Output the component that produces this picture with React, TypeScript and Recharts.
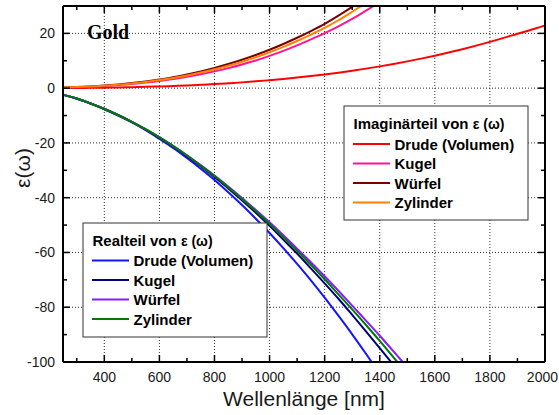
import React from "react";
import { LineChart, Line, XAxis, YAxis, ReferenceLine } from "recharts";

// Wavelength grid in nm
const WAVELENGTH = [
  250, 300, 350, 400, 450, 500, 550, 600, 650, 700, 750, 800, 850, 900, 950,
  1000, 1050, 1100, 1150, 1200, 1250, 1300, 1350, 1400, 1450, 1500, 1550,
  1600, 1650, 1700, 1750, 1800, 1850, 1900, 1950, 2000,
];

// Real part of epsilon (curves leave the frame below -100)
const RE_DRUDE = [
  -2.4, -3.9, -5.6, -7.7, -10.0, -12.5, -15.3, -18.5, -21.8, -25.5, -29.4,
  -33.5, -38.0, -42.7, -47.7, -52.9, -58.4, -64.2, -70.2, -76.5, -83.1, -89.9,
  -97.0, -104.4, null, null, null, null, null, null, null, null, null, null,
  null, null,
];
const RE_KUGEL = [
  -2.4, -3.8, -5.6, -7.6, -9.8, -12.3, -15.1, -18.1, -21.3, -24.8, -28.5,
  -32.5, -36.6, -41.0, -45.5, -50.3, -55.3, -60.4, -65.8, -71.3, -76.9, -82.8,
  -88.8, -94.9, -101.1, null, null, null, null, null, null, null, null, null,
  null, null,
];
const RE_WUERFEL = [
  -2.4, -3.8, -5.6, -7.5, -9.8, -12.3, -15.0, -17.9, -21.1, -24.5, -28.1,
  -31.9, -35.9, -40.1, -44.5, -49.0, -53.7, -58.6, -63.6, -68.7, -74.0, -79.4,
  -84.9, -90.4, -96.1, -101.9, null, null, null, null, null, null, null, null,
  null, null,
];
const RE_ZYLINDER = [
  -2.4, -3.8, -5.6, -7.6, -9.8, -12.3, -15.0, -18.0, -21.2, -24.6, -28.3,
  -32.1, -36.2, -40.5, -44.9, -49.6, -54.4, -59.4, -64.5, -69.8, -75.3, -80.8,
  -86.5, -92.3, -98.3, -104.3, null, null, null, null, null, null, null, null,
  null, null,
];

// Imaginary part of epsilon (curves leave the frame above 30)
const IM_DRUDE = [
  0.05, 0.08, 0.12, 0.19, 0.26, 0.36, 0.48, 0.63, 0.8, 0.99, 1.22, 1.48, 1.78,
  2.11, 2.48, 2.9, 3.35, 3.86, 4.41, 5.01, 5.66, 6.37, 7.13, 7.95, 8.83, 9.78,
  10.79, 11.87, 13.02, 14.24, 15.53, 16.9, 18.35, 19.88, 21.3, 22.9,
];
const IM_KUGEL = [
  0.19, 0.33, 0.53, 0.78, 1.11, 1.53, 2.02, 2.62, 3.32, 4.13, 5.06, 6.12, 7.31,
  8.64, 10.11, 11.8, 13.6, 15.6, 17.8, 20.1, 22.6, 25.3, 28.3, 31.4, null,
  null, null, null, null, null, null, null, null, null, null, null,
];
const IM_WUERFEL = [
  0.24, 0.41, 0.65, 0.96, 1.36, 1.86, 2.47, 3.19, 4.03, 5.01, 6.13, 7.39, 8.81,
  10.39, 12.13, 14.04, 16.13, 18.4, 20.85, 23.49, 26.5, 29.7, 33.1, null, null,
  null, null, null, null, null, null, null, null, null, null, null,
];
const IM_ZYLINDER = [
  0.22, 0.38, 0.6, 0.89, 1.26, 1.72, 2.28, 2.95, 3.74, 4.65, 5.69, 6.87, 8.2,
  9.67, 11.31, 13.11, 15.07, 17.21, 19.53, 22.02, 24.8, 27.9, 31.1, null, null,
  null, null, null, null, null, null, null, null, null, null, null,
];

const SERIES_NAMES = ["Drude (Volumen)", "Kugel", "Würfel", "Zylinder"];
const REAL_COLORS = ["#1414ff", "#00007f", "#8c1aff", "#007a00"];
const IMAG_COLORS = ["#ff0000", "#ff1493", "#7a0000", "#ff8000"];

const X_MAJOR = [400, 600, 800, 1000, 1200, 1400, 1600, 1800, 2000];
const X_MINOR = [300, 500, 700, 900, 1100, 1300, 1500, 1700, 1900];
const Y_MAJOR = [-100, -80, -60, -40, -20, 0, 20];
const Y_MINOR = [-90, -70, -50, -30, -10, 10];

const X_TICKS = [...X_MAJOR, ...X_MINOR].sort((a, b) => a - b);
const Y_TICKS = [...Y_MAJOR, ...Y_MINOR].sort((a, b) => a - b);

const REAL = [RE_DRUDE, RE_KUGEL, RE_WUERFEL, RE_ZYLINDER];
const IMAG = [IM_DRUDE, IM_KUGEL, IM_WUERFEL, IM_ZYLINDER];

const data = WAVELENGTH.map((wl, i) => {
  const row: Record<string, number | null> = { wl };
  REAL.forEach((s, k) => (row[`re${k}`] = s[i]));
  IMAG.forEach((s, k) => (row[`im${k}`] = s[i]));
  return row;
});

const W = 559;
const H = 415;
const FONT = "'Liberation Sans', Arial, sans-serif";
const MAJOR_LEN = 7;
const MINOR_LEN = 4;

// ticks point into the plot; only bottom/left carry labels
const BottomTick = (props: any) => {
  const { x, y, payload } = props;
  const major = X_MAJOR.includes(payload.value);
  const last = payload.value === X_MAJOR[X_MAJOR.length - 1];
  return (
    <g>
      <line x1={x} y1={y} x2={x} y2={y - (major ? MAJOR_LEN : MINOR_LEN)} stroke="#000" strokeWidth={1.5} />
      {major && (
        <text
          x={last ? W - 1 : x}
          y={y + 20}
          textAnchor={last ? "end" : "middle"}
          fontFamily={FONT}
          fontSize={14}
          fill="#1a1a1a"
        >
          {payload.value}
        </text>
      )}
    </g>
  );
};

const TopTick = (props: any) => {
  const { x, y, payload } = props;
  const major = X_MAJOR.includes(payload.value);
  return <line x1={x} y1={y} x2={x} y2={y + (major ? MAJOR_LEN : MINOR_LEN)} stroke="#000" strokeWidth={1.5} />;
};

const LeftTick = (props: any) => {
  const { x, y, payload } = props;
  const major = Y_MAJOR.includes(payload.value);
  return (
    <g>
      <line x1={x} y1={y} x2={x + (major ? MAJOR_LEN : MINOR_LEN)} y2={y} stroke="#000" strokeWidth={1.5} />
      {major && (
        <text x={x - 8} y={y + 5} textAnchor="end" fontFamily={FONT} fontSize={14} fill="#1a1a1a">
          {payload.value}
        </text>
      )}
    </g>
  );
};

const RightTick = (props: any) => {
  const { x, y, payload } = props;
  const major = Y_MAJOR.includes(payload.value);
  return <line x1={x} y1={y} x2={x - (major ? MAJOR_LEN : MINOR_LEN)} y2={y} stroke="#000" strokeWidth={1.5} />;
};

interface LegendBoxProps {
  x: number;
  y: number;
  title: string;
  colors: string[];
  rows: number[];
}

function LegendBox({ x, y, title, colors, rows }: LegendBoxProps) {
  return (
    <g fontFamily={FONT} fontWeight="bold" fill="#000">
      <rect x={x} y={y} width={184} height={114} fill="#fff" stroke="#333" strokeWidth={1} />
      <text x={x + 9.5} y={y + 23} fontSize={15}>
        {title} <tspan fontSize={14}>ε (ω)</tspan>
      </text>
      {SERIES_NAMES.map((name, i) => (
        <g key={name}>
          <line x1={x + 9} x2={x + 46} y1={y + rows[i]} y2={y + rows[i]} stroke={colors[i]} strokeWidth={2} />
          <text x={x + 50.5} y={y + rows[i] + 5.5} fontSize={15}>
            {name}
          </text>
        </g>
      ))}
    </g>
  );
}

export default function App() {
  return (
    <div style={{ position: "absolute", left: 0, top: 0, width: W, height: H, background: "#fff" }}>
      <LineChart width={W} height={H} data={data} margin={{ top: 0, right: 0, bottom: 0, left: 0 }}>
        <XAxis
          dataKey="wl"
          type="number"
          domain={[250, 2000]}
          allowDataOverflow
          ticks={X_TICKS}
          interval={0}
          height={53}
          tickSize={0}
          tickMargin={0}
          tickLine={false}
          axisLine={{ stroke: "#000", strokeWidth: 2 }}
          tick={<BottomTick />}
        />
        <XAxis
          xAxisId="top"
          orientation="top"
          dataKey="wl"
          type="number"
          domain={[250, 2000]}
          allowDataOverflow
          ticks={X_TICKS}
          interval={0}
          height={6}
          tickSize={0}
          tickMargin={0}
          tickLine={false}
          axisLine={{ stroke: "#000", strokeWidth: 2 }}
          tick={<TopTick />}
        />
        <YAxis
          type="number"
          domain={[-100, 30]}
          allowDataOverflow
          ticks={Y_TICKS}
          interval={0}
          width={63}
          tickSize={0}
          tickMargin={0}
          tickLine={false}
          axisLine={{ stroke: "#000", strokeWidth: 2 }}
          tick={<LeftTick />}
        />
        <YAxis
          yAxisId="right"
          orientation="right"
          type="number"
          domain={[-100, 30]}
          allowDataOverflow
          ticks={Y_TICKS}
          interval={0}
          width={14}
          tickSize={0}
          tickMargin={0}
          tickLine={false}
          axisLine={{ stroke: "#000", strokeWidth: 2 }}
          tick={<RightTick />}
        />

        {X_MAJOR.filter((v) => v < 2000).map((v) => (
          <ReferenceLine key={`gx${v}`} x={v} stroke="#333" strokeDasharray="1 2" strokeWidth={1} />
        ))}
        {Y_MAJOR.filter((v) => v > -100).map((v) => (
          <ReferenceLine key={`gy${v}`} y={v} stroke="#333" strokeDasharray="1 2" strokeWidth={1} />
        ))}

        {REAL.map((_, k) => (
          <Line
            key={`re${k}`}
            dataKey={`re${k}`}
            name={SERIES_NAMES[k]}
            type="monotone"
            stroke={REAL_COLORS[k]}
            strokeWidth={2}
            dot={false}
            isAnimationActive={false}
          />
        ))}
        {IMAG.map((_, k) => (
          <Line
            key={`im${k}`}
            dataKey={`im${k}`}
            name={SERIES_NAMES[k]}
            type="monotone"
            stroke={IMAG_COLORS[k]}
            strokeWidth={2}
            dot={false}
            isAnimationActive={false}
          />
        ))}
      </LineChart>

      <svg width={W} height={H} style={{ position: "absolute", left: 0, top: 0, pointerEvents: "none" }}>
        <text x={87} y={39} fontFamily="'Liberation Serif', 'Times New Roman', serif" fontWeight="bold" fontSize={20}>
          Gold
        </text>
        <text x={304} y={406} textAnchor="middle" fontFamily={FONT} fontSize={21} fill="#1a1a1a">
          Wellenlänge [nm]
        </text>
        <text
          x={30}
          y={168}
          textAnchor="middle"
          transform="rotate(-90 30 168)"
          fontFamily={FONT}
          fontSize={21}
          fill="#1a1a1a"
        >
          ε(ω)
        </text>
        <LegendBox x={344} y={106} title="Imaginärteil von" colors={IMAG_COLORS} rows={[38, 57.5, 77, 96.5]} />
        <LegendBox x={83} y={223} title="Realteil von" colors={REAL_COLORS} rows={[37.5, 57, 76.5, 96]} />
      </svg>
    </div>
  );
}
